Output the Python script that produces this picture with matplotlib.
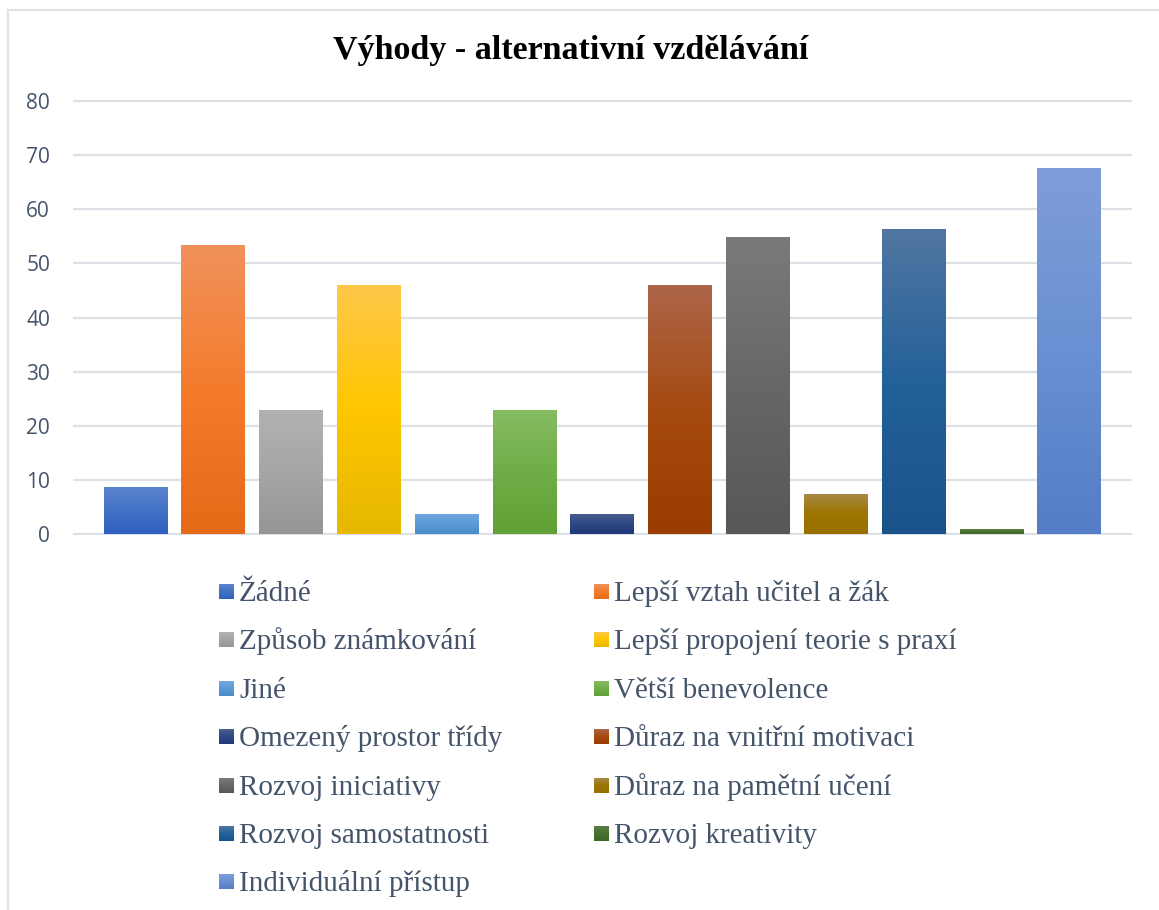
import numpy as np
import matplotlib
matplotlib.use("Agg")
import matplotlib.pyplot as plt
from matplotlib.patches import Rectangle
from matplotlib.colors import to_rgb

# ---------------- data ----------------
title = "Výhody - alternativní vzdělávání"
categories = [
    "Žádné", "Lepší vztah učitel a žák", "Způsob známkování",
    "Lepší propojení teorie s praxí", "Jiné", "Větší benevolence",
    "Omezený prostor třídy", "Důraz na vnitřní motivaci", "Rozvoj iniciativy",
    "Důraz na pamětní učení", "Rozvoj samostatnosti", "Rozvoj kreativity",
    "Individuální přístup",
]
values = [8.8, 53.3, 23.0, 46.0, 3.7, 23.0, 3.7, 46.0, 54.8, 7.4, 56.3, 0.9, 67.5]
yticks = [0, 10, 20, 30, 40, 50, 60, 70, 80]

# gradient colours (top, middle, bottom) per bar
grad_top = ["#5F83CF", "#F0915B", "#B2B2B2", "#FFC84B", "#70A8DF", "#86BD63",
            "#4B608F", "#AE664A", "#7A7A7A", "#A88A48", "#5176A1", "#5B7F49", "#7F9DD8"]
grad_mid = ["#4272C6", "#F47C2C", "#A6A6A6", "#FFC600", "#5B9BD5", "#70AD47",
            "#2E4884", "#A54A10", "#676767", "#9D7500", "#24619A", "#48712F", "#6990D3"]
grad_bot = ["#2F5FBE", "#E46A17", "#959595", "#E6B800", "#4A8BCB", "#60A034",
            "#1E3A78", "#9A3C00", "#575757", "#997000", "#1A538A", "#3E6525", "#547DC6"]

# ---------------- figure ----------------
W, H = 1159, 910
fig = plt.figure(figsize=(W / 100, H / 100), dpi=100)
fig.patch.set_facecolor("white")

# chart-area border
fig.add_artist(Rectangle((8 / W, -0.05), 1.2, 1 - 10 / H + 0.05,
                         transform=fig.transFigure, fill=False,
                         edgecolor="#DDE1E8", linewidth=1.5))

ax = fig.add_axes([73 / W, 1 - 535 / H, (1132 - 73) / W, (535 - 100) / H])
ax.set_facecolor("none")

x = np.arange(len(values))
bw = 0.81
bars = ax.bar(x, values, width=bw, color="none", edgecolor="none", zorder=3)


def gradient(i, n=256):
    t = np.array(to_rgb(grad_top[i]))
    m = np.array(to_rgb(grad_mid[i]))
    bo = np.array(to_rgb(grad_bot[i]))
    s = np.linspace(0, 1, n)[:, None]
    col = np.where(s < 0.5, t + (m - t) * (s / 0.5), m + (bo - m) * ((s - 0.5) / 0.5))
    return col[:, None, :]


for i, b in enumerate(bars):
    x0 = b.get_x()
    im = ax.imshow(gradient(i), extent=[x0, x0 + b.get_width(), 0, b.get_height()],
                   aspect="auto", origin="upper", zorder=3, interpolation="bilinear")
    im.set_clip_path(b)

ax.set_xlim(-(135 - 73) / 77.8, 12 + (1132 - 1069) / 77.8)
ax.set_ylim(-0.12, 80.12)
ax.set_yticks(yticks)
ax.set_yticklabels([str(v) for v in yticks], fontsize=15, color="#44546A",
                   fontfamily="Open Sans")
ax.set_xticks([])
ax.tick_params(axis="y", length=0, pad=16.5)
for sp in ax.spines.values():
    sp.set_visible(False)
ax.set_axisbelow(True)
ax.yaxis.grid(True, color="#DCE1E8", linewidth=1.6)

fig.text(571 / W, 1 - 50 / H, title, ha="center", va="center",
         fontsize=24.5, fontweight="bold", fontfamily="Liberation Serif", color="black")

# legend (two columns, row-major order)
col_x = [219, 594]
row_y0, row_dy = 591.5, 48.4
msz = 15
for i, lab in enumerate(categories):
    c, r = i % 2, i // 2
    xm = col_x[c]
    ym = row_y0 + r * row_dy
    grad = gradient(i)
    lax = fig.add_axes([xm / W, 1 - (ym + msz / 2) / H, msz / W, msz / H])
    lax.imshow(grad, aspect="auto", extent=[0, 1, 0, 1], origin="upper")
    lax.set_axis_off()
    fig.text((xm + msz + 5) / W, 1 - (ym + 9.5) / H, lab, ha="left", va="baseline",
             fontsize=21, fontfamily="Liberation Serif", color="#44546A")

fig.savefig("out.png", dpi=100, facecolor="white")
